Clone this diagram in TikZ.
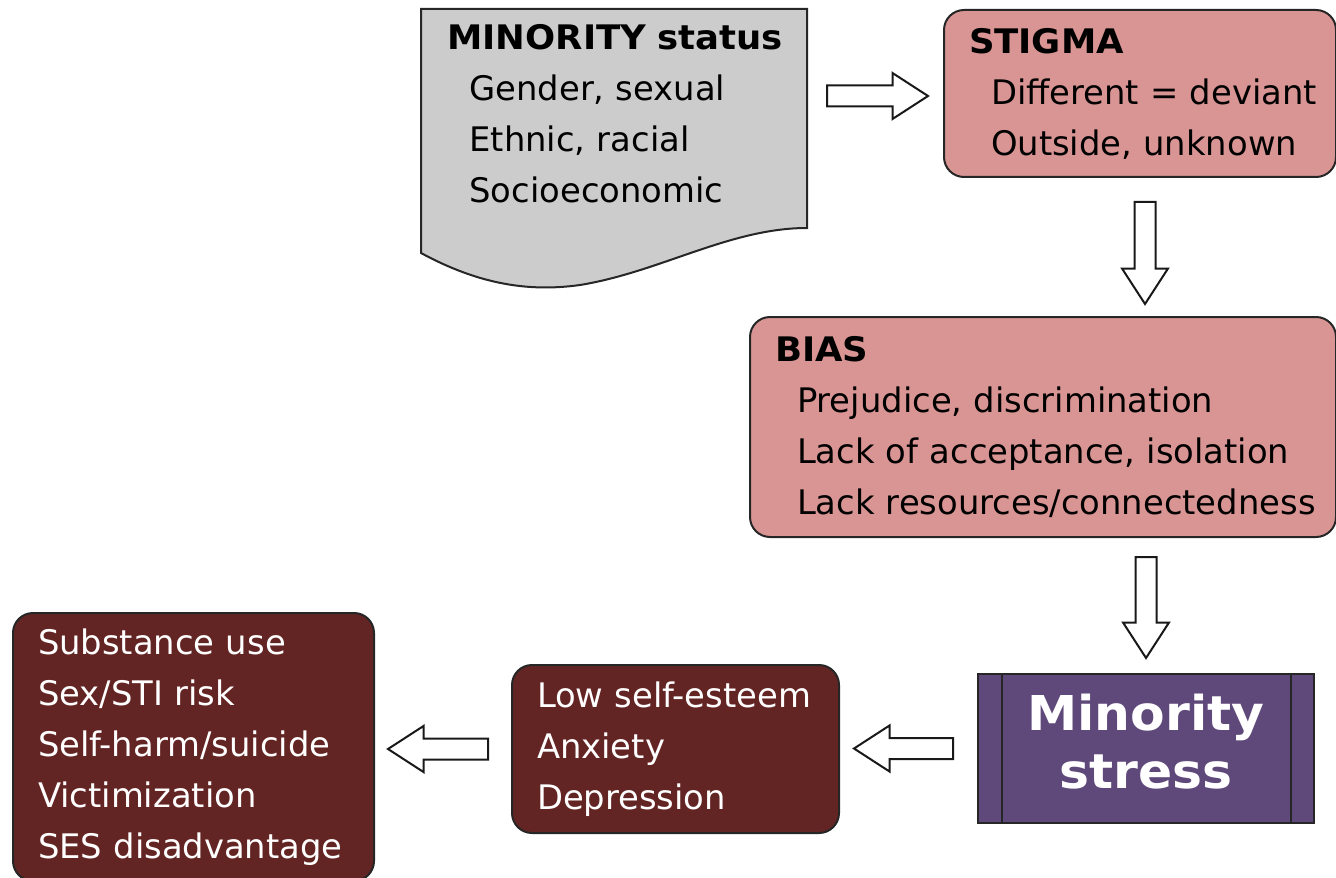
\documentclass[tikz,border=0pt]{standalone}
\usepackage{fontspec}
\setmainfont{DejaVu Sans}[BoldFeatures={FakeStretch=1.05}]
\usetikzlibrary{calc}

\definecolor{stigmapink}{HTML}{D99594}
\definecolor{outcomered}{HTML}{632523}
\definecolor{stresspurple}{HTML}{5F497A}
\definecolor{statusgrey}{HTML}{CCCCCC}

\newcommand{\hd}[1]{\hspace*{12.5pt}\textbf{#1}}
\newcommand{\itm}[1]{\hspace*{23.5pt}#1}
\newcommand{\rl}[1]{\hspace*{12.5pt}#1}

\tikzset{
  box/.style={draw=black!85, line width=1pt, rounded corners=10pt, anchor=north west,
    inner sep=0pt, align=left, font=\fontsize{16.9}{25.5}\selectfont},
  pinkbox/.style={box, fill=stigmapink},
  redbox/.style={box, fill=outcomered, text=white},
  blockarrow/.style={draw=black!90, fill=white, line width=1pt, line join=miter,
    to path={($(\tikztostart)!5.25pt!90:(\tikztotarget)$)
      -- ($(\tikztotarget)!17.75pt!(\tikztostart)!5.25pt!90:(\tikztotarget)$)
      -- ($(\tikztotarget)!17.75pt!(\tikztostart)!11.5pt!90:(\tikztotarget)$)
      -- (\tikztotarget)
      -- ($(\tikztotarget)!17.75pt!(\tikztostart)!11.5pt!-90:(\tikztotarget)$)
      -- ($(\tikztotarget)!17.75pt!(\tikztostart)!5.25pt!-90:(\tikztotarget)$)
      -- ($(\tikztostart)!5.25pt!-90:(\tikztotarget)$) -- cycle}}
}

\begin{document}
\begin{tikzpicture}[x=0.5pt, y=-0.5pt]
  \useasboundingbox (0,0) rectangle (1336,877);
  % minority status, document shape
  \draw[draw=black!85, line width=1pt, fill=statusgrey]
    (421,9) -- (807,9) -- (807,228)
    .. controls (730,228) and (660,272) .. (580,285)
    .. controls (530,292) and (480,285) .. (421,253) -- cycle;
  \node[anchor=base west, inner sep=0pt, text width=193pt, align=left,
    font=\fontsize{16.9}{25.5}\selectfont] (status) at (422,50)
    {\hd{MINORITY status}\\\itm{Gender, sexual}\\\itm{Ethnic, racial}\\\itm{Socioeconomic}};
  % pink boxes
  \node[pinkbox, text width=196pt, minimum height=83.5pt] (stigma) at (943,9)
    {\hd{STIGMA}\\\itm{Different = deviant}\\\itm{Outside, unknown}};
  \node[pinkbox, text width=293pt, minimum height=110pt] (bias) at (749,316)
    {\hd{BIAS}\\\itm{Prejudice, discrimination}\\\itm{Lack of acceptance, isolation}\\\itm{Lack resources/connectedness}};
  % minority stress
  \node[draw=black!85, line width=1pt, fill=stresspurple, text=white, anchor=north west,
    minimum width=168pt, minimum height=74.5pt, align=center, text height=47pt, text depth=7pt,
    font=\fontsize{24}{29}\selectfont\bfseries] (stress) at (977,673) {Minority\\stress};
  \draw[line width=1pt, black!85] ([xshift=12.5pt]stress.north west) -- ([xshift=12.5pt]stress.south west);
  \draw[line width=1pt, black!85] ([xshift=-12pt]stress.north east) -- ([xshift=-12pt]stress.south east);
  % outcomes
  \node[redbox, text width=163.5pt, minimum height=84pt] (low) at (511,664)
    {\rl{Low self-esteem}\\\rl{Anxiety}\\\rl{Depression}};
  \node[redbox, text width=180.5pt, minimum height=134pt] (outcome) at (12,612)
    {\rl{Substance use}\\\rl{Sex/STI risk}\\\rl{Self-harm/suicide}\\\rl{Victimization}\\\rl{SES disadvantage}};
  % arrows
  \coordinate (a1s) at ($(stigma.west)+(-116,2.5)$);
  \coordinate (a1e) at ($(stigma.west)+(-15,2.5)$);
  \coordinate (a2s) at ($(stigma.south)+(5,24)$);
  \coordinate (a2e) at ($(stigma.south)+(5,126)$);
  \coordinate (a3s) at ($(stress.north)+(0,-116)$);
  \coordinate (a3e) at ($(stress.north)+(0,-15)$);
  \coordinate (a4s) at ($(stress.west)+(-24,0)$);
  \coordinate (a4e) at ($(low.east |- a4s)+(14,0)$);
  \coordinate (a5s) at ($(low.west)+(-23,0)$);
  \coordinate (a5e) at ($(outcome.east |- a5s)+(13,0)$);
  \draw[blockarrow] (a1s) to (a1e);
  \draw[blockarrow] (a2s) to (a2e);
  \draw[blockarrow] (a3s) to (a3e);
  \draw[blockarrow] (a4s) to (a4e);
  \draw[blockarrow] (a5s) to (a5e);
\end{tikzpicture}
\end{document}
